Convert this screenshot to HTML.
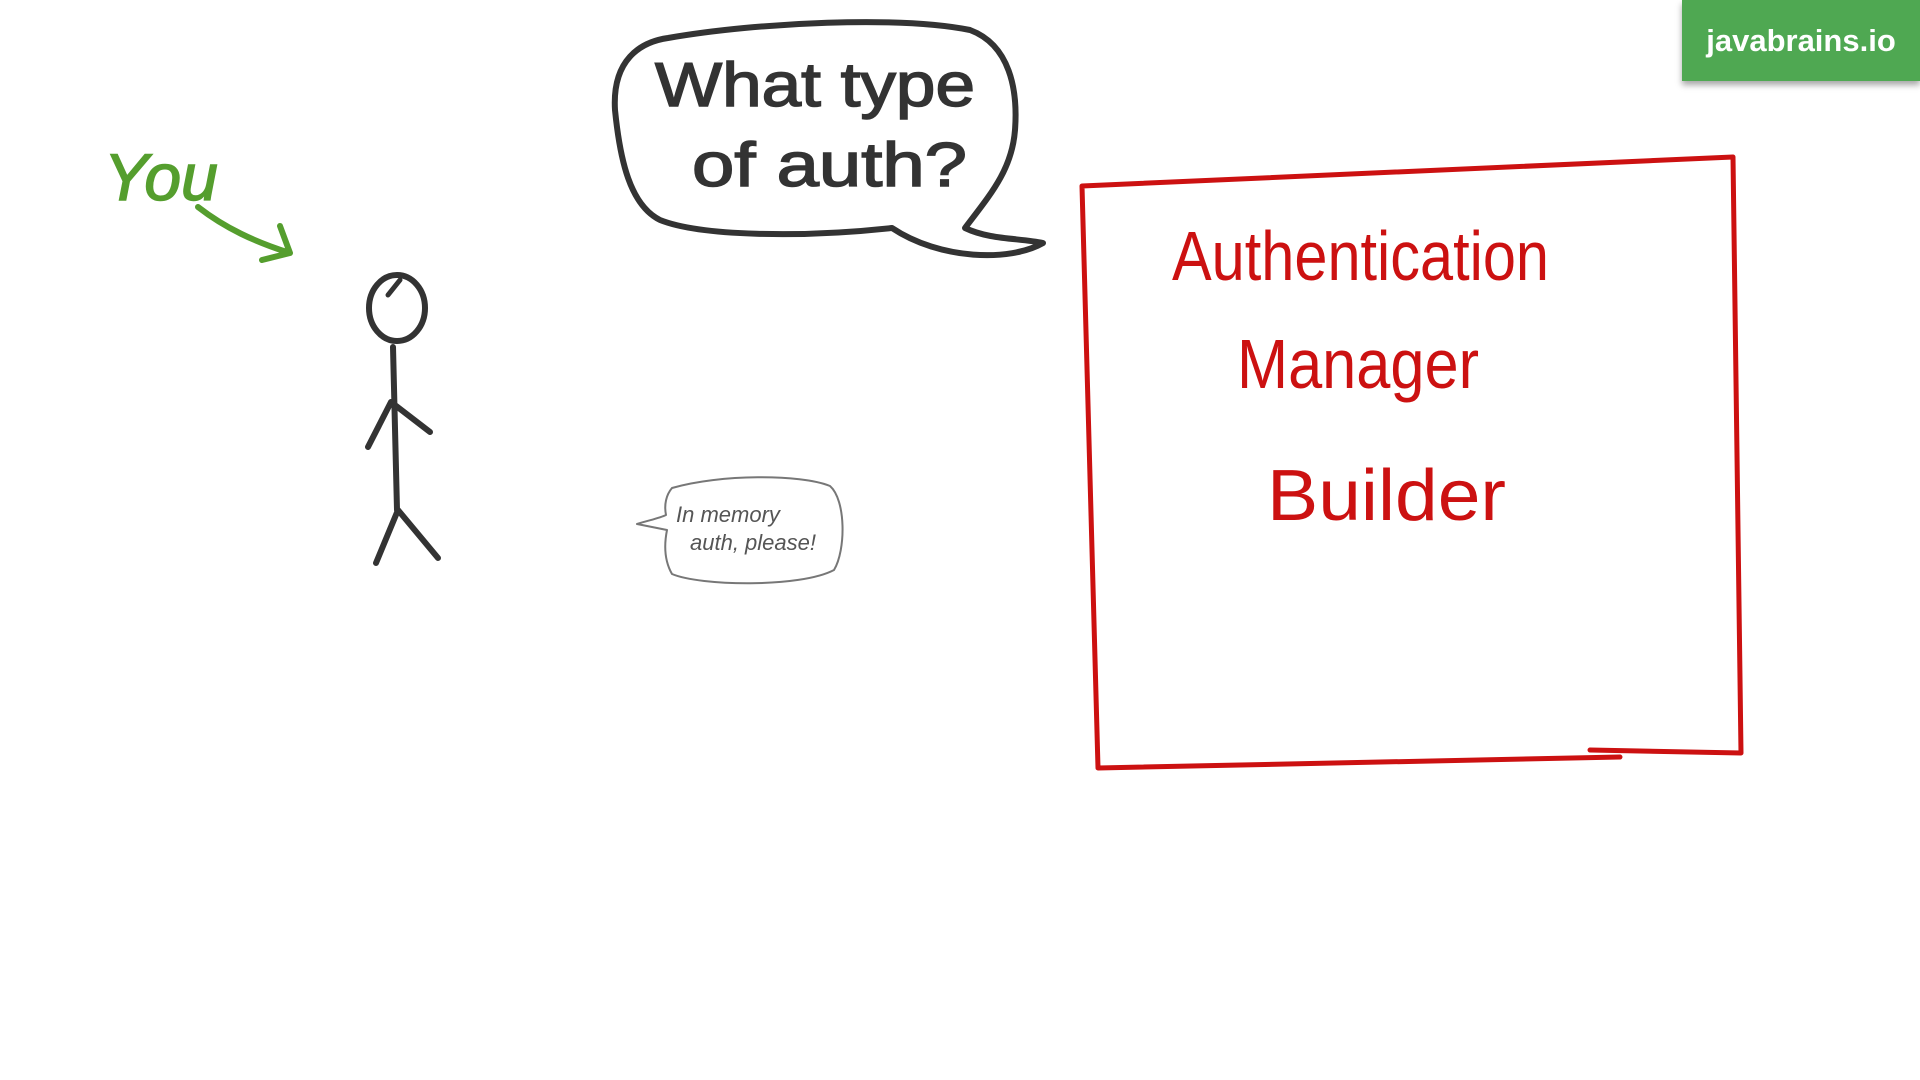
<!DOCTYPE html>
<html><head><meta charset="utf-8"><style>
html,body{margin:0;padding:0;background:#fff;width:1920px;height:1080px;overflow:hidden}
svg{position:absolute;left:0;top:0}
.badge{position:absolute;left:1682px;top:0;width:238px;height:81px;background:#4fa852;box-shadow:0 4px 6px rgba(0,0,0,0.35);color:#fff;font-family:"Liberation Sans",sans-serif;font-size:31px;font-weight:bold;line-height:81px;text-align:center}
</style></head><body>
<svg width="1920" height="1080" viewBox="0 0 1920 1080">
<g fill="none" stroke-linecap="round" stroke-linejoin="round">
<path d="M668,38 C760,22 900,16 970,30 C1010,45 1018,90 1015,130 C1012,170 990,195 965,228 C990,240 1020,238 1043,243 C1010,262 940,260 892,228 C800,238 700,236 660,220 C630,205 620,160 615,110 C612,60 640,42 668,38 Z" stroke="#333" stroke-width="6"/>
<path d="M672,488 C720,474 800,474 830,486 C846,500 846,550 834,570 C800,588 700,586 672,574 C664,560 664,545 667,530 L637,524 C650,520 660,518 666,515 C664,505 666,495 672,488 Z" stroke="#777" stroke-width="2"/>
<path d="M1082,186 L1733,157 L1741,753 L1590,750 M1620,757 L1098,768 L1082,186" stroke="#cc1111" stroke-width="5"/>
<ellipse cx="397" cy="308" rx="28" ry="33" stroke="#333" stroke-width="6"/>
<path d="M388,295 L400,280" stroke="#333" stroke-width="5"/>
<path d="M393,347 L397,510 M391,402 L368,447 M391,402 L430,432 M398,510 L376,563 M398,510 L438,558" stroke="#333" stroke-width="6"/>
<path d="M198,207 C225,228 255,242 290,253 M280,226 L290,253 L262,260" stroke="#559e2e" stroke-width="6"/>
</g>
<g font-family="Liberation Sans, sans-serif">
<text x="104" y="200" font-size="66" fill="#559e2e" font-style="italic" stroke="#559e2e" stroke-width="1.5">You</text>
<text x="655" y="106" font-size="62" fill="#333" stroke="#333" stroke-width="1.5" textLength="320" lengthAdjust="spacingAndGlyphs">What  type</text>
<text x="692" y="186" font-size="62" fill="#333" stroke="#333" stroke-width="1.5" textLength="275" lengthAdjust="spacingAndGlyphs">of  auth?</text>
<text x="676" y="522" font-size="22" fill="#555" font-style="italic">In memory</text>
<text x="690" y="550" font-size="22" fill="#555" font-style="italic">auth, please!</text>
<text x="1172" y="280" font-size="70" fill="#cc1111" textLength="377" lengthAdjust="spacingAndGlyphs">Authentication</text>
<text x="1237" y="388" font-size="70" fill="#cc1111" textLength="242" lengthAdjust="spacingAndGlyphs">Manager</text>
<text x="1267" y="520" font-size="72" fill="#cc1111" textLength="239" lengthAdjust="spacingAndGlyphs">Builder</text>
</g>
</svg>
<div class="badge">javabrains.io</div>
</body></html>
